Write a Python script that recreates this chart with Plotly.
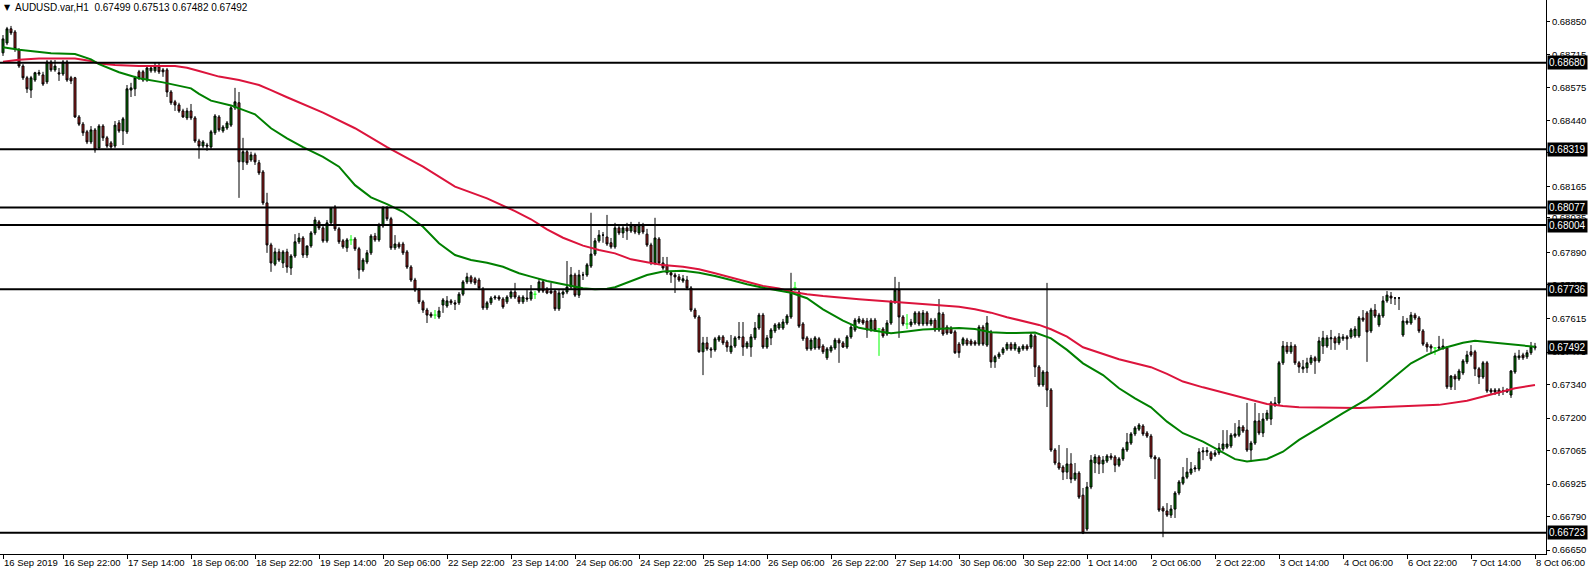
import plotly.graph_objects as go

# ---- Data (AUDUSD H1) ----
opens = [
0.68721,0.68762,0.68821,0.68808,0.68733,0.68666,0.68617,0.68566,0.68608,0.68633,
0.68629,0.68600,0.68683,0.68650,0.68638,0.68633,0.68683,0.68617,0.68617,0.68454,
0.68424,0.68392,0.68350,0.68400,0.68325,0.68416,0.68367,0.68346,0.68333,0.68429,
0.68396,0.68392,0.68566,0.68571,0.68642,0.68642,0.68608,0.68646,0.68646,0.68662,
0.68650,0.68650,0.68558,0.68517,0.68504,0.68479,0.68450,0.68479,0.68450,0.68354,
0.68333,0.68337,0.68329,0.68388,0.68454,0.68396,0.68408,0.68420,0.68492,0.68513,
0.68267,0.68309,0.68275,0.68296,0.68263,0.68225,0.68096,0.67921,0.67841,0.67892,
0.67846,0.67892,0.67825,0.67875,0.67934,0.67950,0.67879,0.67917,0.67971,0.68017,
0.67992,0.67938,0.68013,0.68079,0.67988,0.67938,0.67909,0.67942,0.67946,0.67905,
0.67817,0.67850,0.67888,0.67958,0.67942,0.68000,0.68075,0.68030,0.67909,0.67925,
0.67925,0.67892,0.67829,0.67775,0.67733,0.67684,0.67650,0.67633,0.67629,0.67621,
0.67671,0.67667,0.67688,0.67680,0.67680,0.67716,0.67767,0.67788,0.67780,0.67775,
0.67737,0.67659,0.67680,0.67700,0.67704,0.67696,0.67684,0.67704,0.67725,0.67704,
0.67684,0.67700,0.67696,0.67716,0.67729,0.67767,0.67737,0.67729,0.67729,0.67655,
0.67716,0.67725,0.67746,0.67796,0.67712,0.67796,0.67796,0.67833,0.67883,0.67938,
0.67962,0.67954,0.67930,0.67913,0.67992,0.67971,0.67992,0.67979,0.68000,0.67971,
0.68000,0.67966,0.67921,0.67846,0.67946,0.67846,0.67837,0.67805,0.67796,0.67788,
0.67771,0.67775,0.67742,0.67650,0.67621,0.67476,0.67513,0.67488,0.67484,0.67525,
0.67538,0.67517,0.67476,0.67500,0.67534,0.67538,0.67496,0.67496,0.67534,0.67575,
0.67629,0.67496,0.67534,0.67563,0.67575,0.67575,0.67596,0.67621,0.67742,0.67725,
0.67592,0.67534,0.67488,0.67492,0.67530,0.67500,0.67451,0.67480,0.67492,0.67525,
0.67513,0.67496,0.67538,0.67567,0.67600,0.67608,0.67604,0.67567,0.67608,0.67571,
0.67571,0.67550,0.67596,0.67684,0.67733,0.67621,0.67592,0.67588,0.67596,0.67638,
0.67592,0.67638,0.67592,0.67608,0.67567,0.67633,0.67579,0.67575,0.67559,0.67508,
0.67508,0.67525,0.67521,0.67517,0.67508,0.67579,0.67504,0.67559,0.67434,0.67455,
0.67472,0.67488,0.67508,0.67488,0.67476,0.67488,0.67500,0.67496,0.67542,0.67413,
0.67338,0.67392,0.67317,0.67067,0.67013,0.66996,0.66975,0.67009,0.66946,0.66971,
0.66879,0.66738,0.66913,0.67013,0.67038,0.67009,0.67021,0.67042,0.67038,0.67004,
0.67030,0.67067,0.67096,0.67134,0.67154,0.67167,0.67138,0.67125,0.67038,0.67030,
0.66825,0.66813,0.66796,0.66821,0.66888,0.66929,0.66954,0.66971,0.66988,0.66988,
0.67059,0.67059,0.67055,0.67046,0.67055,0.67071,0.67079,0.67084,0.67125,0.67129,
0.67163,0.67150,0.67067,0.67096,0.67188,0.67138,0.67196,0.67196,0.67254,0.67263,
0.67430,0.67500,0.67476,0.67500,0.67430,0.67405,0.67409,0.67430,0.67451,0.67438,
0.67500,0.67500,0.67530,0.67534,0.67513,0.67530,0.67538,0.67538,0.67542,0.67542,
0.67617,0.67638,0.67563,0.67650,0.67588,0.67625,0.67688,0.67708,0.67700,0.67700,
0.67546,0.67596,0.67596,0.67629,0.67617,0.67563,0.67508,0.67500,0.67492,0.67496,
0.67492,0.67492,0.67330,0.67375,0.67363,0.67388,0.67434,0.67476,0.67476,0.67405,
0.67371,0.67430,0.67317,0.67317,0.67317,0.67313,0.67317,0.67296,0.67392,0.67451,
0.67463,0.67455,0.67472,0.67499]

highs = [
0.68795,0.68829,0.68833,0.68816,0.68741,0.68674,0.68625,0.68625,0.68642,0.68650,
0.68642,0.68691,0.68691,0.68691,0.68658,0.68691,0.68691,0.68625,0.68621,0.68462,
0.68433,0.68400,0.68416,0.68408,0.68424,0.68424,0.68375,0.68354,0.68437,0.68441,
0.68454,0.68587,0.68596,0.68625,0.68650,0.68650,0.68666,0.68670,0.68679,0.68679,
0.68658,0.68658,0.68566,0.68525,0.68513,0.68488,0.68492,0.68508,0.68458,0.68363,
0.68358,0.68346,0.68400,0.68466,0.68462,0.68420,0.68437,0.68500,0.68575,0.68558,
0.68367,0.68317,0.68309,0.68305,0.68275,0.68233,0.68138,0.67930,0.67909,0.67905,
0.67900,0.67905,0.67883,0.67966,0.67971,0.67958,0.67888,0.67979,0.68038,0.68025,
0.68000,0.68025,0.68079,0.68087,0.67996,0.67946,0.67950,0.67962,0.67954,0.67913,
0.67867,0.67900,0.67966,0.67971,0.68013,0.68083,0.68083,0.68038,0.67962,0.67934,
0.67934,0.67900,0.67837,0.67784,0.67742,0.67692,0.67659,0.67642,0.67650,0.67663,
0.67700,0.67708,0.67696,0.67692,0.67725,0.67775,0.67805,0.67796,0.67788,0.67784,
0.67746,0.67688,0.67708,0.67712,0.67712,0.67704,0.67712,0.67733,0.67763,0.67712,
0.67712,0.67733,0.67754,0.67729,0.67780,0.67775,0.67746,0.67763,0.67737,0.67733,
0.67733,0.67854,0.67829,0.67805,0.67817,0.67809,0.67846,0.68055,0.67950,0.67983,
0.67975,0.68046,0.67950,0.68013,0.68004,0.68000,0.68013,0.68017,0.68008,0.68017,
0.68013,0.67988,0.67930,0.68034,0.67954,0.67871,0.67871,0.67813,0.67805,0.67800,
0.67796,0.67792,0.67750,0.67659,0.67629,0.67538,0.67538,0.67496,0.67538,0.67546,
0.67546,0.67525,0.67546,0.67542,0.67600,0.67600,0.67521,0.67550,0.67600,0.67638,
0.67638,0.67546,0.67575,0.67596,0.67600,0.67613,0.67633,0.67805,0.67767,0.67733,
0.67600,0.67542,0.67534,0.67542,0.67538,0.67508,0.67496,0.67504,0.67534,0.67534,
0.67521,0.67546,0.67588,0.67617,0.67625,0.67617,0.67617,0.67617,0.67617,0.67575,
0.67579,0.67608,0.67692,0.67788,0.67767,0.67629,0.67633,0.67613,0.67646,0.67646,
0.67650,0.67646,0.67617,0.67617,0.67696,0.67642,0.67588,0.67583,0.67567,0.67517,
0.67538,0.67534,0.67530,0.67525,0.67588,0.67588,0.67625,0.67567,0.67463,0.67476,
0.67496,0.67517,0.67517,0.67517,0.67500,0.67508,0.67508,0.67554,0.67550,0.67421,
0.67400,0.67763,0.67325,0.67075,0.67088,0.67004,0.67075,0.67054,0.67013,0.66979,
0.66909,0.66934,0.67046,0.67050,0.67046,0.67042,0.67050,0.67054,0.67046,0.67038,
0.67079,0.67138,0.67142,0.67167,0.67179,0.67175,0.67146,0.67134,0.67046,0.67038,
0.66834,0.66846,0.66838,0.66896,0.66942,0.66996,0.67034,0.67017,0.67004,0.67075,
0.67079,0.67079,0.67063,0.67067,0.67096,0.67150,0.67150,0.67138,0.67179,0.67192,
0.67171,0.67263,0.67105,0.67263,0.67221,0.67221,0.67234,0.67271,0.67288,0.67438,
0.67521,0.67517,0.67517,0.67508,0.67438,0.67442,0.67451,0.67463,0.67459,0.67538,
0.67563,0.67546,0.67567,0.67542,0.67554,0.67550,0.67546,0.67575,0.67583,0.67625,
0.67650,0.67646,0.67659,0.67675,0.67638,0.67708,0.67729,0.67725,0.67704,0.67704,
0.67625,0.67617,0.67642,0.67638,0.67625,0.67571,0.67517,0.67508,0.67496,0.67542,
0.67530,0.67500,0.67379,0.67384,0.67405,0.67446,0.67480,0.67504,0.67484,0.67413,
0.67438,0.67438,0.67325,0.67325,0.67325,0.67330,0.67325,0.67400,0.67472,0.67484,
0.67472,0.67484,0.67517,0.67513]

lows = [
0.68708,0.68753,0.68795,0.68725,0.68658,0.68608,0.68554,0.68533,0.68600,0.68625,
0.68583,0.68591,0.68642,0.68642,0.68604,0.68625,0.68600,0.68591,0.68450,0.68416,
0.68375,0.68341,0.68341,0.68305,0.68317,0.68354,0.68325,0.68317,0.68325,0.68388,
0.68337,0.68383,0.68537,0.68541,0.68608,0.68600,0.68600,0.68638,0.68638,0.68633,
0.68621,0.68537,0.68504,0.68479,0.68471,0.68450,0.68441,0.68441,0.68346,0.68280,
0.68325,0.68313,0.68321,0.68379,0.68392,0.68388,0.68400,0.68412,0.68483,0.68117,
0.68233,0.68254,0.68267,0.68254,0.68212,0.68087,0.67888,0.67809,0.67833,0.67850,
0.67825,0.67805,0.67796,0.67867,0.67925,0.67867,0.67867,0.67909,0.67962,0.67983,
0.67930,0.67930,0.68004,0.67979,0.67925,0.67905,0.67892,0.67921,0.67896,0.67780,
0.67809,0.67841,0.67879,0.67934,0.67934,0.67992,0.68021,0.67900,0.67900,0.67905,
0.67879,0.67821,0.67767,0.67725,0.67675,0.67638,0.67596,0.67617,0.67613,0.67613,
0.67638,0.67659,0.67671,0.67650,0.67671,0.67708,0.67758,0.67758,0.67754,0.67733,
0.67650,0.67650,0.67671,0.67692,0.67688,0.67655,0.67675,0.67696,0.67696,0.67675,
0.67675,0.67684,0.67688,0.67696,0.67721,0.67721,0.67716,0.67716,0.67646,0.67646,
0.67700,0.67716,0.67737,0.67704,0.67700,0.67775,0.67788,0.67825,0.67875,0.67930,
0.67930,0.67917,0.67905,0.67905,0.67962,0.67950,0.67942,0.67971,0.67966,0.67962,
0.67966,0.67913,0.67837,0.67837,0.67837,0.67817,0.67796,0.67763,0.67721,0.67767,
0.67763,0.67733,0.67642,0.67613,0.67472,0.67379,0.67480,0.67451,0.67476,0.67517,
0.67504,0.67476,0.67467,0.67492,0.67525,0.67459,0.67488,0.67455,0.67525,0.67567,
0.67488,0.67488,0.67504,0.67554,0.67567,0.67567,0.67588,0.67613,0.67729,0.67575,
0.67521,0.67480,0.67480,0.67484,0.67484,0.67467,0.67442,0.67472,0.67484,0.67430,
0.67492,0.67488,0.67530,0.67559,0.67592,0.67588,0.67534,0.67559,0.67559,0.67459,
0.67534,0.67542,0.67588,0.67675,0.67534,0.67583,0.67571,0.67579,0.67588,0.67583,
0.67583,0.67583,0.67583,0.67559,0.67559,0.67542,0.67546,0.67550,0.67467,0.67451,
0.67500,0.67500,0.67500,0.67500,0.67500,0.67500,0.67496,0.67409,0.67409,0.67446,
0.67463,0.67480,0.67480,0.67480,0.67467,0.67480,0.67480,0.67488,0.67371,0.67330,
0.67330,0.67246,0.67059,0.67004,0.66984,0.66942,0.66946,0.66929,0.66938,0.66863,
0.66717,0.66730,0.66904,0.66971,0.66967,0.66971,0.67013,0.67025,0.66975,0.66996,
0.67021,0.67059,0.67088,0.67125,0.67146,0.67125,0.67117,0.67030,0.66946,0.66809,
0.66704,0.66788,0.66784,0.66784,0.66879,0.66921,0.66946,0.66963,0.66975,0.66979,
0.67025,0.67042,0.67021,0.67038,0.67046,0.67063,0.67071,0.67075,0.67117,0.67121,
0.67138,0.67059,0.67017,0.67088,0.67129,0.67121,0.67188,0.67171,0.67246,0.67254,
0.67421,0.67467,0.67467,0.67421,0.67388,0.67388,0.67388,0.67421,0.67384,0.67430,
0.67467,0.67492,0.67484,0.67484,0.67504,0.67521,0.67484,0.67530,0.67534,0.67534,
0.67600,0.67434,0.67554,0.67617,0.67579,0.67617,0.67680,0.67675,0.67671,0.67650,
0.67538,0.67588,0.67588,0.67608,0.67554,0.67500,0.67476,0.67467,0.67463,0.67484,
0.67484,0.67321,0.67317,0.67317,0.67355,0.67379,0.67425,0.67455,0.67375,0.67342,
0.67363,0.67305,0.67300,0.67296,0.67292,0.67296,0.67305,0.67284,0.67384,0.67442,
0.67442,0.67446,0.67463,0.67482]

closes = [
0.68779,0.68821,0.68804,0.68737,0.68666,0.68617,0.68571,0.68617,0.68638,0.68638,
0.68591,0.68683,0.68650,0.68666,0.68633,0.68683,0.68608,0.68604,0.68454,0.68424,
0.68388,0.68350,0.68400,0.68317,0.68416,0.68367,0.68333,0.68329,0.68420,0.68396,
0.68446,0.68571,0.68575,0.68617,0.68617,0.68608,0.68658,0.68658,0.68662,0.68642,
0.68642,0.68558,0.68513,0.68504,0.68479,0.68454,0.68479,0.68450,0.68354,0.68333,
0.68350,0.68333,0.68392,0.68458,0.68400,0.68412,0.68429,0.68492,0.68517,0.68267,
0.68309,0.68263,0.68296,0.68267,0.68221,0.68096,0.67921,0.67846,0.67892,0.67858,
0.67892,0.67829,0.67875,0.67934,0.67950,0.67879,0.67917,0.67971,0.68025,0.67992,
0.67938,0.68013,0.68075,0.67988,0.67934,0.67913,0.67942,0.67942,0.67905,0.67817,
0.67858,0.67888,0.67958,0.67942,0.68004,0.68075,0.68030,0.67909,0.67925,0.67913,
0.67888,0.67829,0.67775,0.67733,0.67684,0.67650,0.67629,0.67625,0.67629,0.67646,
0.67692,0.67688,0.67680,0.67675,0.67716,0.67767,0.67788,0.67767,0.67763,0.67742,
0.67659,0.67680,0.67700,0.67704,0.67696,0.67663,0.67704,0.67725,0.67704,0.67684,
0.67704,0.67696,0.67725,0.67716,0.67767,0.67729,0.67721,0.67721,0.67655,0.67721,
0.67725,0.67746,0.67796,0.67712,0.67796,0.67796,0.67838,0.67883,0.67938,0.67962,
0.67962,0.67925,0.67913,0.67992,0.67971,0.67992,0.67979,0.68000,0.67975,0.68004,
0.67975,0.67921,0.67846,0.67950,0.67846,0.67825,0.67805,0.67796,0.67788,0.67775,
0.67780,0.67742,0.67650,0.67621,0.67476,0.67513,0.67488,0.67484,0.67530,0.67538,
0.67513,0.67496,0.67500,0.67534,0.67538,0.67496,0.67513,0.67538,0.67575,0.67629,
0.67496,0.67534,0.67567,0.67588,0.67592,0.67600,0.67625,0.67733,0.67742,0.67583,
0.67530,0.67488,0.67525,0.67534,0.67492,0.67476,0.67488,0.67496,0.67525,0.67513,
0.67496,0.67538,0.67579,0.67608,0.67613,0.67596,0.67567,0.67608,0.67567,0.67571,
0.67542,0.67596,0.67684,0.67733,0.67621,0.67592,0.67592,0.67600,0.67638,0.67592,
0.67638,0.67592,0.67608,0.67567,0.67638,0.67550,0.67554,0.67554,0.67472,0.67472,
0.67530,0.67508,0.67508,0.67508,0.67579,0.67508,0.67596,0.67434,0.67455,0.67467,
0.67488,0.67508,0.67488,0.67508,0.67492,0.67500,0.67488,0.67546,0.67413,0.67338,
0.67392,0.67317,0.67067,0.67013,0.66992,0.66975,0.67009,0.66946,0.66971,0.66871,
0.66721,0.66913,0.67025,0.67038,0.67009,0.67025,0.67042,0.67034,0.67004,0.67030,
0.67071,0.67100,0.67134,0.67159,0.67171,0.67134,0.67125,0.67038,0.67030,0.66817,
0.66813,0.66796,0.66821,0.66888,0.66934,0.66954,0.66975,0.66988,0.66992,0.67059,
0.67063,0.67065,0.67030,0.67055,0.67075,0.67092,0.67092,0.67129,0.67134,0.67163,
0.67146,0.67067,0.67096,0.67188,0.67138,0.67196,0.67221,0.67263,0.67263,0.67430,
0.67500,0.67476,0.67500,0.67430,0.67413,0.67413,0.67430,0.67451,0.67438,0.67521,
0.67534,0.67534,0.67534,0.67513,0.67538,0.67538,0.67530,0.67567,0.67571,0.67617,
0.67608,0.67559,0.67650,0.67625,0.67629,0.67688,0.67712,0.67700,0.67700,0.67700,
0.67604,0.67604,0.67629,0.67617,0.67563,0.67508,0.67496,0.67492,0.67492,0.67492,
0.67500,0.67330,0.67375,0.67363,0.67396,0.67438,0.67463,0.67463,0.67405,0.67371,
0.67430,0.67313,0.67309,0.67309,0.67305,0.67313,0.67309,0.67396,0.67459,0.67459,
0.67451,0.67472,0.67496,0.67492]

# bars drawn as lime dojis in the original
doji_bars = [87, 108, 133, 198, 219, 226, 358]

# moving averages (bar index, value)
ma_fast_bar = [0, 4, 12, 18, 22, 24, 29, 34, 40, 47, 49, 52, 57, 63, 67, 71, 75, 80, 84, 88,
               92, 96, 100, 105, 109, 113, 117, 121, 125, 129, 132, 136, 140, 145, 148, 151, 153,
               157, 161, 165, 170, 174, 178, 182, 186, 190, 194, 197, 201, 205, 210, 214, 218,
               222, 226, 230, 239, 243, 247, 251, 258, 262, 266, 270, 275, 279, 283, 287, 291,
               295, 300, 304, 308, 311, 316, 320, 324, 329, 335, 341, 344, 348, 352, 356, 360,
               365, 368, 373, 377, 383]
ma_fast_val = [0.68744, 0.68734, 0.68719, 0.68716, 0.68694, 0.68674, 0.68640, 0.68615, 0.68598,
               0.68573, 0.68550, 0.68522, 0.68502, 0.68465, 0.68407, 0.68365, 0.68328, 0.68288,
               0.68247, 0.68170, 0.68119, 0.68091, 0.68059, 0.67997, 0.67928, 0.67879, 0.67858,
               0.67847, 0.67830, 0.67803, 0.67789, 0.67771, 0.67757, 0.67741, 0.67736, 0.67739,
               0.67745, 0.67771, 0.67796, 0.67810, 0.67814, 0.67805, 0.67792, 0.67775, 0.67757,
               0.67743, 0.67731, 0.67722, 0.67699, 0.67653, 0.67606, 0.67576, 0.67564, 0.67553,
               0.67561, 0.67569, 0.67575, 0.67571, 0.67557, 0.67554, 0.67556, 0.67532, 0.67484,
               0.67428, 0.67379, 0.67324, 0.67282, 0.67245, 0.67185, 0.67137, 0.67102, 0.67067,
               0.67029, 0.67019, 0.67030, 0.67060, 0.67109, 0.67159, 0.67221, 0.67279, 0.67317,
               0.67373, 0.67428, 0.67463, 0.67491, 0.67514, 0.67522, 0.67514, 0.67507, 0.67497]
ma_slow_bar = [0, 4, 9, 18, 22, 24, 28, 34, 43, 46, 49, 54, 59, 64, 67, 71, 80, 88, 96, 105,
               113, 121, 128, 132, 136, 140, 145, 149, 153, 157, 161, 165, 170, 174, 178, 182,
               186, 190, 194, 197, 201, 205, 214, 222, 230, 239, 243, 247, 251, 255, 259, 262,
               266, 270, 275, 279, 283, 287, 291, 295, 300, 304, 308, 312, 316, 320, 324, 339,
               349, 359, 366, 370, 374, 378, 383]
ma_slow_val = [0.68684, 0.68692, 0.68697, 0.68697, 0.68687, 0.68677, 0.68670, 0.68666, 0.68666,
               0.68659, 0.68645, 0.68622, 0.68608, 0.68587, 0.68566, 0.68536, 0.68472, 0.68407,
               0.68328, 0.68247, 0.68164, 0.68115, 0.68062, 0.68028, 0.67986, 0.67951, 0.67918,
               0.67900, 0.67886, 0.67861, 0.67849, 0.67837, 0.67830, 0.67820, 0.67803, 0.67785,
               0.67766, 0.67750, 0.67740, 0.67726, 0.67716, 0.67708, 0.67695, 0.67685, 0.67678,
               0.67664, 0.67653, 0.67639, 0.67620, 0.67604, 0.67588, 0.67570, 0.67539, 0.67495,
               0.67467, 0.67445, 0.67428, 0.67412, 0.67384, 0.67352, 0.67328, 0.67310, 0.67292,
               0.67275, 0.67259, 0.67250, 0.67245, 0.67242, 0.67248, 0.67255, 0.67272, 0.67289,
               0.67306, 0.67324, 0.67338]

levels = [0.68680, 0.68319, 0.68077, 0.68004, 0.67736, 0.66723]
current_price = 0.67492

price_ticks = [0.68850, 0.68715, 0.68575, 0.68440, 0.68305, 0.68165, 0.68035, 0.67890, 0.67755,
               0.67615, 0.67475, 0.67340, 0.67200, 0.67065, 0.66925, 0.66790, 0.66650]

time_tick_bars = [0, 15, 31, 47, 63, 79, 95, 111, 127, 143, 159, 175, 191, 207, 223, 239, 255,
                  271, 287, 303, 319, 335, 351, 367, 383]
time_tick_text = ["16 Sep 2019", "16 Sep 22:00", "17 Sep 14:00", "18 Sep 06:00", "18 Sep 22:00",
                  "19 Sep 14:00", "20 Sep 06:00", "22 Sep 22:00", "23 Sep 14:00", "24 Sep 06:00",
                  "24 Sep 22:00", "25 Sep 14:00", "26 Sep 06:00", "26 Sep 22:00", "27 Sep 14:00",
                  "30 Sep 06:00", "30 Sep 22:00", "1 Oct 14:00", "2 Oct 06:00", "2 Oct 22:00",
                  "3 Oct 14:00", "4 Oct 06:00", "6 Oct 22:00", "7 Oct 14:00", "8 Oct 06:00"]

title_text = "AUDUSD.var,H1  0.67499 0.67513 0.67482 0.67492"

n = len(closes)
assert len(opens) == n and len(highs) == n and len(lows) == n, (len(opens), len(highs), len(lows), n)

FONT = "Liberation Sans, Arial, sans-serif"
BULL = "#008000"
BEAR = "#B22222"

main_idx = [i for i in range(n) if i not in doji_bars]

fig = go.Figure()
fig.add_trace(go.Candlestick(
    x=main_idx,
    open=[opens[i] for i in main_idx],
    high=[highs[i] for i in main_idx],
    low=[lows[i] for i in main_idx],
    close=[closes[i] for i in main_idx],
    increasing=dict(fillcolor=BULL, line=dict(color="black", width=1)),
    decreasing=dict(fillcolor=BEAR, line=dict(color="black", width=1)),
    whiskerwidth=0,
    showlegend=False,
    hoverinfo="skip",
))

# lime doji bars
dx, dy = [], []
for i in doji_bars:
    dx += [i, i, None, i - 0.4, i + 0.4, None]
    dy += [lows[i], highs[i], None, opens[i], opens[i], None]
fig.add_trace(go.Scatter(x=dx, y=dy, mode="lines", line=dict(color="#00FF00", width=1),
                         showlegend=False, hoverinfo="skip"))

fig.add_trace(go.Scatter(x=ma_slow_bar, y=ma_slow_val, mode="lines",
                         line=dict(color="#DC143C", width=2), showlegend=False, hoverinfo="skip"))
fig.add_trace(go.Scatter(x=ma_fast_bar, y=ma_fast_val, mode="lines",
                         line=dict(color="#008000", width=2), showlegend=False, hoverinfo="skip"))

shapes = [dict(type="line", xref="paper", x0=0, x1=1, yref="y", y0=v, y1=v,
               line=dict(color="black", width=2), layer="above") for v in levels]

annotations = []
for v in levels + [current_price]:
    annotations.append(dict(xref="paper", x=1, yref="y", y=v, text=f"{v:.5f}",
                            showarrow=False, xanchor="left", yanchor="middle", xshift=1,
                            bgcolor="black", font=dict(color="white", size=10, family=FONT),
                            borderpad=1))
annotations.append(dict(xref="paper", yref="paper", x=0, y=1, text="▼", showarrow=False,
                        xanchor="left", yanchor="top", xshift=2, yshift=-1,
                        font=dict(size=8, color="black", family="DejaVu Sans")))
annotations.append(dict(xref="paper", yref="paper", x=0, y=1, text=title_text, showarrow=False,
                        xanchor="left", yanchor="top", xshift=13, yshift=0,
                        font=dict(size=10, color="black", family=FONT)))

y_lo = 0.66634
y_hi = 0.68941

fig.update_layout(
    width=1588, height=572,
    margin=dict(l=0, r=42, t=0, b=18),
    paper_bgcolor="white", plot_bgcolor="white",
    font=dict(family=FONT, size=10, color="black"),
    shapes=shapes, annotations=annotations,
    showlegend=False,
    xaxis=dict(range=[-0.75, 385.75], rangeslider=dict(visible=False), showgrid=False,
               zeroline=False, showline=True, linecolor="black", linewidth=1,
               ticks="outside", ticklen=4, tickcolor="black", tickangle=0,
               tickmode="array", tickvals=time_tick_bars, ticktext=time_tick_text,
               ticklabelposition="outside right", ticklabeloverflow="allow",
               tickfont=dict(size=9.5, family=FONT)),
    yaxis=dict(range=[y_lo, y_hi], side="right", showgrid=False, zeroline=False,
               showline=True, linecolor="black", linewidth=1,
               ticks="outside", ticklen=3, tickcolor="black",
               tickmode="array", tickvals=price_ticks,
               ticktext=[f"{v:.5f}" for v in price_ticks], tickfont=dict(size=9.5, family=FONT)),
)

fig.write_html("out.html", config={"displayModeBar": False},
               post_script="document.body.style.margin='0';document.body.style.overflow='hidden';")
